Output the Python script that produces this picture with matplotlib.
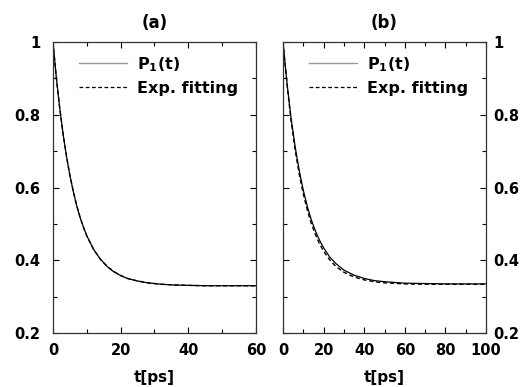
import matplotlib
matplotlib.use("Agg")
import matplotlib.pyplot as plt
from matplotlib.lines import Line2D
from matplotlib.ticker import MultipleLocator

plt.rcParams['font.family'] = ['DejaVu Sans']
plt.rcParams['font.weight'] = 'bold'
plt.rcParams['mathtext.fontset'] = 'custom'
plt.rcParams['mathtext.bf'] = 'DejaVu Sans:bold'
plt.rcParams['mathtext.rm'] = 'DejaVu Sans:bold'
plt.rcParams['mathtext.default'] = 'bf'

# panel (a): population P1(t) and its exponential fit
t_a = [0, 1, 2, 3, 4, 5, 6, 7, 8, 9, 10, 12, 14, 16, 18, 20, 22, 25, 28, 32, 36, 40, 45, 50, 55, 60]
p_a = [1.0, 0.901, 0.818, 0.746, 0.685, 0.633, 0.589, 0.550, 0.518, 0.491, 0.467, 0.430, 0.403,
       0.383, 0.368, 0.358, 0.350, 0.343, 0.338, 0.334, 0.332, 0.331, 0.330, 0.330, 0.330, 0.330]
fit_a = [1.0, 0.900, 0.817, 0.746, 0.685, 0.633, 0.589, 0.551, 0.518, 0.491, 0.467, 0.430, 0.403,
         0.383, 0.369, 0.358, 0.350, 0.343, 0.338, 0.334, 0.332, 0.331, 0.330, 0.330, 0.330, 0.330]

# panel (b)
t_b = [0, 2, 4, 6, 8, 10, 12, 14, 16, 18, 20, 23, 26, 30, 35, 40, 45, 50, 60, 70, 80, 90, 100]
p_b = [1.0, 0.885, 0.789, 0.711, 0.646, 0.592, 0.547, 0.510, 0.480, 0.455, 0.434, 0.409, 0.391,
       0.373, 0.359, 0.350, 0.344, 0.341, 0.337, 0.336, 0.335, 0.335, 0.335]
fit_b = [1.0, 0.881, 0.782, 0.702, 0.636, 0.582, 0.537, 0.500, 0.470, 0.445, 0.425, 0.401, 0.383,
         0.367, 0.354, 0.346, 0.341, 0.338, 0.335, 0.334, 0.334, 0.334, 0.334]

yticks = [0.2, 0.4, 0.6, 0.8, 1.0]
ylabels = ['0.2', '0.4', '0.6', '0.8', '1']

fig = plt.figure(figsize=(5.31, 3.87), dpi=100)
ax1 = fig.add_axes([0.0998, 0.1395, 0.3823, 0.752])
ax2 = fig.add_axes([0.533, 0.1395, 0.3823, 0.752])

fs = 11
for ax, t, p, f, title, xmax in [(ax1, t_a, p_a, fit_a, '(a)', 60), (ax2, t_b, p_b, fit_b, '(b)', 100)]:
    ax.plot(t, p, color='black', lw=0.9)
    ax.plot(t, f, color='black', lw=1.0, ls=(0, (3, 2)))
    ax.set_xlim(0, xmax)
    ax.set_ylim(0.2, 1.0)
    ax.xaxis.set_major_locator(MultipleLocator(20))
    ax.xaxis.set_minor_locator(MultipleLocator(10))
    ax.set_yticks(yticks, ylabels)
    ax.yaxis.set_minor_locator(MultipleLocator(0.1))
    ax.tick_params(which='both', direction='in', top=True, right=True, left=True, labelsize=fs - 0.5, width=0.8)
    ax.tick_params(which='major', length=4)
    ax.tick_params(which='minor', length=3)
    ax.tick_params(axis='x', which='major', pad=7)
    for s in ax.spines.values():
        s.set_linewidth(0.9)
        s.set_color('#333333')
    ax.set_title(title, fontsize=fs + 1, fontweight='bold', pad=10)
    ax.set_xlabel('t[ps]', fontsize=fs, fontweight='bold', labelpad=9)
    handles = [Line2D([], [], color='#999999', lw=1.0),
               Line2D([], [], color='black', lw=0.9, ls=(0, (3, 2)))]
    ax.legend(handles, ['P$_1$(t)', 'Exp. fitting'], loc='upper left', bbox_to_anchor=(0.13, 0.955),
              frameon=False, fontsize=fs + 0.5, handlelength=3.0, handletextpad=0.6,
              borderpad=0, borderaxespad=0, labelspacing=0.45)

ax1.tick_params(axis='y', which='major', pad=9)
ax2.tick_params(axis='y', which='major', labelleft=False, labelright=True, pad=5)

fig.savefig('out.png', dpi=100)
